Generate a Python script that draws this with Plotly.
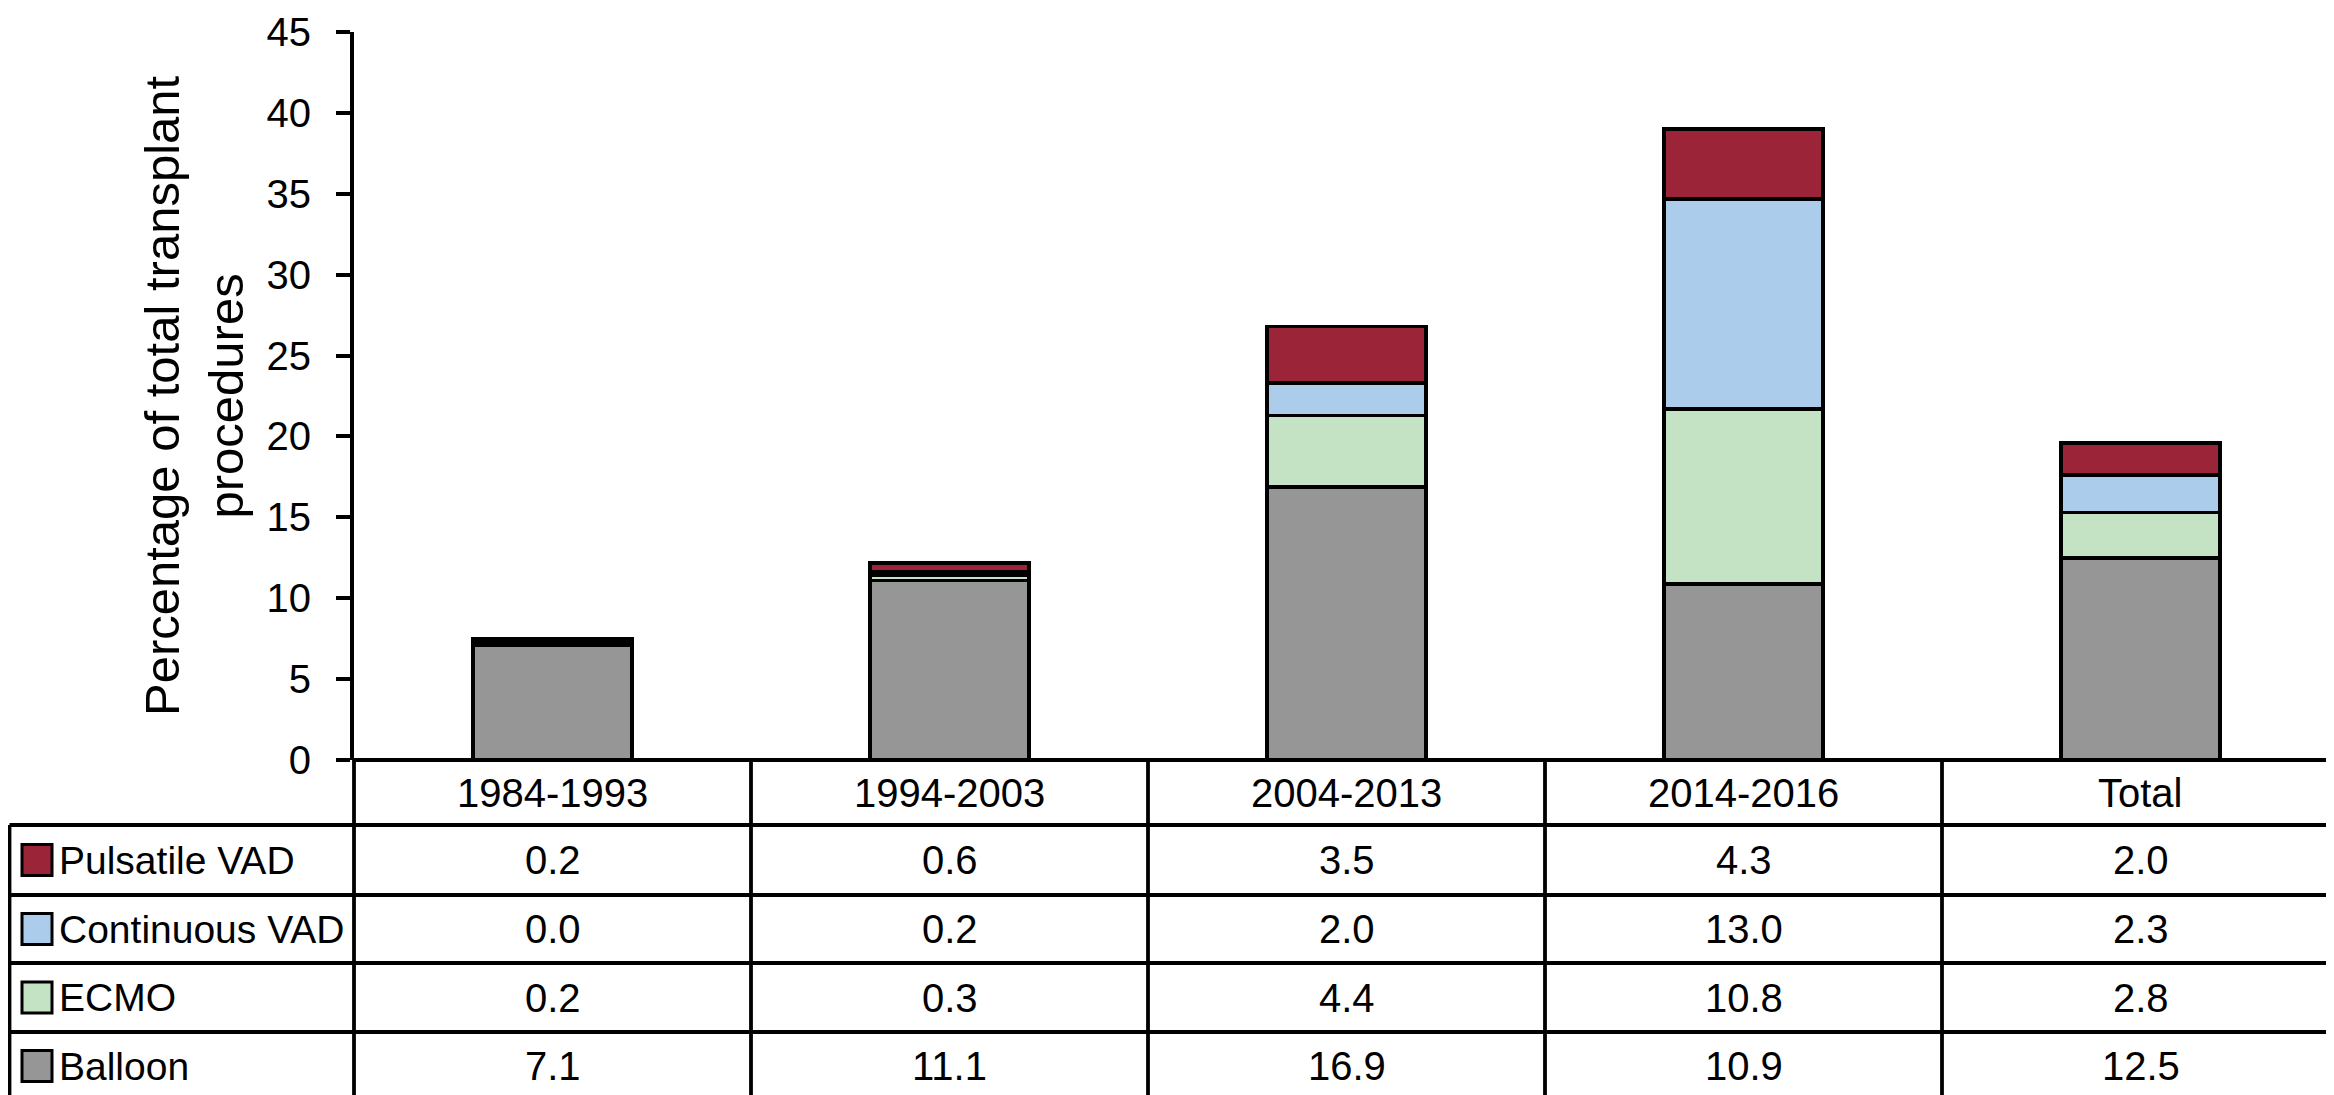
import plotly.graph_objects as go

# ---- data ----
categories = ["1984-1993", "1994-2003", "2004-2013", "2014-2016", "Total"]
balloon = [7.1, 11.1, 16.9, 10.9, 12.5]
ecmo = [0.2, 0.3, 4.4, 10.8, 2.8]
continuous_vad = [0.0, 0.2, 2.0, 13.0, 2.3]
pulsatile_vad = [0.2, 0.6, 3.5, 4.3, 2.0]
y_ticks = [0, 5, 10, 15, 20, 25, 30, 35, 40, 45]

series = [
    ("Balloon", balloon, "#969696"),
    ("ECMO", ecmo, "#C4E2C4"),
    ("Continuous VAD", continuous_vad, "#ABCDEB"),
    ("Pulsatile VAD", pulsatile_vad, "#9C2439"),
]

# ---- layout geometry (pixels) ----
W, H = 2334, 1095
L, R, T = 346, 3, 24
Y0 = 752  # pixel of y=0
B = H - Y0
PW = W - L - R
PH = Y0 - T
FONT = "Liberation Sans, Arial, sans-serif"
LW = 3.8


def px_x(px):
    return (px - L) / PW


def px_y(py):
    return (Y0 - py) / PH


fig = go.Figure()
for name, vals, col in series:
    fig.add_trace(go.Bar(
        x=categories, y=vals, name=name,
        marker=dict(color=col, line=dict(color="black", width=LW)),
        showlegend=False,
    ))

# table row boundaries (pixels)
row_lines = [817, 887, 955, 1024, 1092]
header_center = (Y0 + row_lines[0]) / 2
table_rows = list(reversed(series))  # Pulsatile first

shapes = []
shapes.append(dict(type="line", xref="paper", yref="paper", x0=0, x1=px_x(W - 3),
                   y0=0, y1=0, line=dict(color="black", width=LW)))
for ry in row_lines:
    shapes.append(dict(type="line", xref="paper", yref="paper", x0=px_x(1.5), x1=px_x(W - 3),
                       y0=px_y(ry), y1=px_y(ry), line=dict(color="black", width=LW)))
shapes.append(dict(type="line", xref="paper", yref="paper", x0=px_x(1.5), x1=px_x(1.5),
                   y0=px_y(row_lines[0]), y1=px_y(row_lines[-1]), line=dict(color="black", width=LW)))
shapes.append(dict(type="line", xref="paper", yref="paper", x0=0, x1=0,
                   y0=0, y1=px_y(row_lines[-1]), line=dict(color="black", width=LW)))
for i in range(len(categories)):
    xb = i + 0.5
    shapes.append(dict(type="line", xref="x", yref="paper", x0=xb, x1=xb,
                       y0=0, y1=px_y(row_lines[-1]), line=dict(color="black", width=LW)))

annotations = []
annotations.append(dict(text="Percentage of total transplant<br>procedures", textangle=-90,
                        xref="paper", yref="paper", x=px_x(186), y=0.5,
                        xanchor="center", yanchor="middle", showarrow=False,
                        font=dict(family=FONT, size=49, color="black")))
for c in categories:
    annotations.append(dict(text=c, xref="x", yref="paper", x=c, y=px_y(header_center),
                            xanchor="center", yanchor="middle", showarrow=False,
                            font=dict(family=FONT, size=40, color="black")))
for r, (name, vals, col) in enumerate(table_rows):
    top, bot = row_lines[r], row_lines[r + 1]
    cy = (top + bot) / 2
    shapes.append(dict(type="rect", xref="paper", yref="paper",
                       x0=px_x(14), x1=px_x(44), y0=px_y(cy - 15.5), y1=px_y(cy + 15.5),
                       fillcolor=col, line=dict(color="black", width=3)))
    annotations.append(dict(text=name, xref="paper", yref="paper", x=px_x(49), y=px_y(cy),
                            xanchor="left", yanchor="middle", showarrow=False,
                            font=dict(family=FONT, size=39, color="black")))
    for c, v in zip(categories, vals):
        annotations.append(dict(text=f"{v:.1f}", xref="x", yref="paper", x=c, y=px_y(cy),
                                xanchor="center", yanchor="middle", showarrow=False,
                                font=dict(family=FONT, size=40, color="black")))

fig.update_layout(
    barmode="stack",
    bargap=0.6,
    width=W, height=H,
    margin=dict(l=L, r=R, t=T, b=B, pad=0),
    plot_bgcolor="white", paper_bgcolor="white",
    shapes=shapes, annotations=annotations,
    xaxis=dict(visible=False, range=[-0.5, len(categories) - 0.5]),
    yaxis=dict(range=[0, 45], tickvals=y_ticks, showgrid=False, zeroline=False,
               showline=True, linecolor="black", linewidth=LW,
               ticks="outside", ticklen=14, tickwidth=LW, tickcolor="black",
               ticklabelstandoff=17,
               tickfont=dict(family=FONT, size=40, color="black")),
    font=dict(family=FONT, color="black"),
)

fig.write_html("out.html")
